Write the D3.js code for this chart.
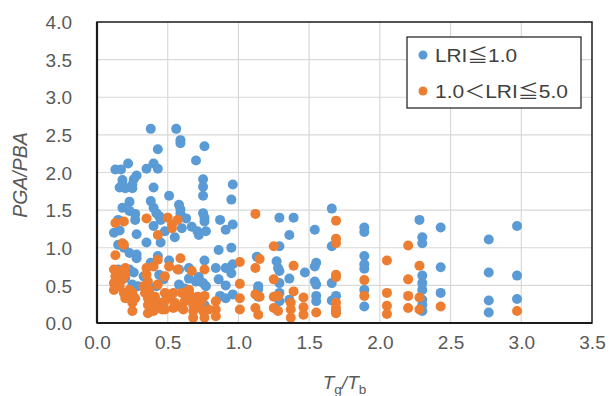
<!DOCTYPE html>
<html>
<head>
<meta charset="utf-8">
<script src="https://cdn.jsdelivr.net/npm/d3@7"></script>
<style>
  body { margin: 0; background: #fff; }
  svg { display: block; font-family: Arial, "Liberation Sans", sans-serif; }
  .grid line { stroke: #d9d9d9; stroke-width: 1.2; }
  .tick text { fill: #595959; font-size: 19px; }
</style>
</head>
<body>
<svg id="chart" width="615" height="396"></svg>
<script>
// axis ticks
var xTicks = [0, 0.5, 1.0, 1.5, 2.0, 2.5, 3.0, 3.5];
var yTicks = [0, 0.5, 1.0, 1.5, 2.0, 2.5, 3.0, 3.5, 4.0];
var seriesNames = ["LRI\u22661.0", "1.0\uff1cLRI\u22665.0"];
var seriesColors = ["#5b9bd5", "#ed7d31"];

// LRI <= 1.0 : [Tg/Tb, PGA/PBA]
var lowLRI = [
  [0.38,2.58],[0.56,2.58],[0.59,2.43],[0.59,2.39],[0.43,2.31],[0.76,2.35],[0.70,2.16],
  [0.13,2.04],[0.17,2.04],[0.22,2.12],[0.35,2.05],[0.40,2.12],[0.43,2.05],[0.28,1.96],
  [0.26,1.91],[0.18,1.90],[0.18,1.84],[0.16,1.80],[0.20,1.79],[0.25,1.79],[0.25,1.84],
  [0.40,1.80],[0.75,1.91],[0.75,1.81],[0.75,1.69],[0.51,1.69],[0.96,1.84],[0.95,1.64],
  [0.23,1.61],[0.38,1.62],[0.18,1.53],[0.58,1.57],[0.59,1.51],[0.40,1.53],[0.23,1.49],
  [0.27,1.45],[0.42,1.46],[0.44,1.42],[0.59,1.46],[0.75,1.46],[0.76,1.40],[0.76,1.35],
  [0.15,1.37],[0.27,1.37],[0.45,1.37],[0.63,1.39],[0.87,1.37],[0.96,1.31],[1.29,1.40],
  [1.39,1.40],[1.66,1.52],[1.54,1.24],[1.89,1.27],[1.89,1.21],[2.28,1.37],[2.43,1.27],
  [2.97,1.29],[2.30,1.14],[2.30,1.06],[2.77,1.11],[1.36,1.17],[1.29,1.02],[1.66,1.02],
  [0.91,1.24],[0.67,1.28],[0.71,1.22],[0.72,1.17],[0.77,1.22],[0.60,1.26],[0.55,1.14],
  [0.48,1.22],[0.40,1.29],[0.28,1.18],[0.35,1.07],[0.45,1.07],[0.12,1.20],[0.16,1.23],
  [0.15,1.04],[0.19,1.00],[0.23,0.93],[0.28,0.91],[0.28,0.86],[0.86,0.97],[0.95,1.00],
  [0.43,0.89],[1.13,0.88],[0.38,0.80],[0.51,0.83],[0.76,0.83],[0.96,0.78],[0.84,0.73],
  [0.91,0.73],[1.27,0.82],[1.28,0.73],[1.29,0.69],[1.55,0.80],[1.54,0.75],[1.89,0.89],
  [1.89,0.78],[1.89,0.72],[2.43,0.74],[2.77,0.67],[2.97,0.63],[1.47,0.67],[1.36,0.59],
  [2.30,0.63],[2.30,0.53],[2.30,0.44],[1.66,0.53],[1.54,0.55],[1.55,0.51],[1.29,0.53],
  [1.14,0.49],[1.14,0.45],[0.95,0.66],[0.86,0.58],[0.91,0.50],[0.58,0.51],[0.65,0.59],
  [0.72,0.61],[0.75,0.53],[0.77,0.49],[0.58,0.71],[0.65,0.73],[0.47,0.58],[0.42,0.49],
  [0.26,0.67],[0.23,0.71],[0.15,0.71],[0.25,0.51],[0.29,0.49],[1.89,0.44],[2.43,0.40],
  [2.77,0.30],[2.97,0.32],[2.77,0.14],[1.55,0.36],[1.55,0.29],[1.69,0.36],[1.66,0.30],
  [1.89,0.22],[2.30,0.31],[2.30,0.24],[2.30,0.16],[1.29,0.40],[1.29,0.29],[1.36,0.31],
  [1.14,0.35],[0.91,0.33],[0.96,0.38],[0.87,0.36],[0.76,0.24],[1.69,0.16],[0.20,0.60],
  [0.33,0.62],[0.62,0.46],[0.70,0.55],[0.44,0.64]
];

// 1.0 < LRI <= 5.0
var highLRI = [
  [1.12,1.45],[1.69,1.36],[1.69,1.12],[1.69,1.06],[1.25,1.02],[2.20,1.03],[0.35,1.39],
  [0.50,1.40],[0.57,1.37],[0.53,1.31],[0.53,1.26],[0.13,1.33],[0.19,1.35],[0.18,1.06],
  [0.19,1.04],[0.43,1.17],[0.13,0.90],[0.59,0.86],[0.43,0.84],[1.01,0.81],[1.15,0.85],
  [2.05,0.83],[1.12,0.73],[1.39,0.76],[2.28,0.76],[1.69,0.64],[1.69,0.61],[1.25,0.58],
  [2.20,0.58],[1.89,0.57],[1.01,0.52],[2.05,0.40],[1.89,0.36],[2.20,0.36],[2.28,0.34],
  [1.46,0.34],[1.39,0.42],[1.25,0.35],[1.28,0.36],[1.12,0.38],[1.15,0.35],[1.01,0.33],
  [2.05,0.23],[2.43,0.22],[2.20,0.20],[2.28,0.18],[2.97,0.16],[2.05,0.12],[1.69,0.27],
  [1.69,0.20],[1.69,0.13],[1.55,0.14],[1.46,0.21],[1.46,0.11],[1.37,0.27],[1.37,0.18],
  [1.37,0.07],[1.25,0.20],[1.28,0.16],[1.12,0.20],[1.14,0.11],[1.01,0.18],[0.84,0.29],
  [0.84,0.18],[0.84,0.09],[0.76,0.07],[0.68,0.07],[0.48,0.40],[0.54,0.40],[0.60,0.40],
  [0.65,0.40],[0.71,0.35],[0.76,0.36],[0.48,0.29],[0.55,0.27],[0.62,0.29],[0.68,0.24],
  [0.74,0.29],[0.48,0.18],[0.54,0.20],[0.61,0.18],[0.68,0.16],[0.75,0.16],[0.79,0.18],
  [0.36,0.13],[0.40,0.16],[0.36,0.24],[0.39,0.31],[0.34,0.40],[0.33,0.49],[0.36,0.55],
  [0.35,0.64],[0.35,0.73],[0.40,0.75],[0.37,0.44],[0.41,0.35],[0.41,0.22],[0.46,0.18],
  [0.43,0.51],[0.51,0.75],[0.57,0.71],[0.48,0.62],[0.67,0.69],[0.76,0.71],[0.65,0.44],
  [0.12,0.71],[0.13,0.62],[0.12,0.53],[0.12,0.44],[0.16,0.69],[0.18,0.58],[0.16,0.49],
  [0.19,0.40],[0.20,0.73],[0.20,0.64],[0.23,0.44],[0.25,0.40],[0.25,0.27],[0.25,0.16],
  [0.23,0.33],[0.20,0.33],[0.27,0.33],[0.36,0.33],[0.52,0.33],[0.58,0.22],[0.71,0.22],
  [0.44,0.27],[0.66,0.31]
];

var svg = d3.select("#chart");
var margin = {left: 97, right: 23, top: 22, bottom: 73};
var width = 615 - margin.left - margin.right,
    height = 396 - margin.top - margin.bottom;

var x = d3.scaleLinear().domain([0, 3.5]).range([0, width]);
var y = d3.scaleLinear().domain([0, 4]).range([height, 0]);

var g = svg.append("g").attr("transform", "translate(" + margin.left + "," + margin.top + ")");

// gridlines
var grid = g.append("g").attr("class", "grid");
grid.selectAll(".gx").data(xTicks.slice(1, -1)).enter().append("line")
    .attr("x1", function(d) { return x(d); }).attr("x2", function(d) { return x(d); })
    .attr("y1", 0).attr("y2", height);
grid.selectAll(".gy").data(yTicks.slice(1, -1)).enter().append("line")
    .attr("x1", 0).attr("x2", width)
    .attr("y1", function(d) { return y(d); }).attr("y2", function(d) { return y(d); });

// axes (labels only, frame drawn separately)
var xAxis = g.append("g").attr("transform", "translate(0," + height + ")")
    .call(d3.axisBottom(x).tickValues(xTicks).tickFormat(d3.format(".1f")).tickSize(0).tickPadding(20));
var yAxis = g.append("g")
    .call(d3.axisLeft(y).tickValues(yTicks).tickFormat(d3.format(".1f")).tickSize(0).tickPadding(25));
xAxis.select(".domain").remove();
yAxis.select(".domain").remove();
xAxis.selectAll("text").attr("dy", "0.3em");
yAxis.selectAll("text").attr("dy", "0.35em");

// points
var r = 5;
g.append("g").selectAll("circle").data(lowLRI).enter().append("circle")
    .attr("cx", function(d) { return x(d[0]); })
    .attr("cy", function(d) { return y(d[1]); })
    .attr("r", r).attr("fill", seriesColors[0]);
g.append("g").selectAll("circle").data(highLRI).enter().append("circle")
    .attr("cx", function(d) { return x(d[0]); })
    .attr("cy", function(d) { return y(d[1]); })
    .attr("r", r).attr("fill", seriesColors[1]);

// plot frame
g.append("rect").attr("width", width).attr("height", height)
    .attr("fill", "none").attr("stroke", "#1a1a1a").attr("stroke-width", 1.5);
g.append("line").attr("x1", 0).attr("x2", width).attr("y1", height).attr("y2", height)
    .attr("stroke", "#1a1a1a").attr("stroke-width", 2.2);
g.append("line").attr("x1", 0).attr("x2", 0).attr("y1", 0).attr("y2", height)
    .attr("stroke", "#1a1a1a").attr("stroke-width", 2.2);

// legend
var legend = svg.append("g").attr("transform", "translate(407,37)");
legend.append("rect").attr("width", 174).attr("height", 71)
    .attr("fill", "#fff").attr("stroke", "#1a1a1a").attr("stroke-width", 1.2);
var items = legend.selectAll(".item").data(seriesNames).enter().append("g")
    .attr("transform", function(d, i) { return "translate(0," + (18 + i * 36) + ")"; });
items.append("circle").attr("cx", 16).attr("cy", 0).attr("r", 4.5)
    .attr("fill", function(d, i) { return seriesColors[i]; });
var legendWidths = [82, 133];
items.append("text").attr("x", 28).attr("dy", "0.36em")
    .attr("fill", "#404040").style("font-size", "18.5px")
    .attr("textLength", function(d, i) { return legendWidths[i]; })
    .attr("lengthAdjust", "spacingAndGlyphs")
    .each(function(d) {
      var t = d3.select(this);
      d.split(/([\u2266\uff1c])/).forEach(function(part) {
        if (!part) return;
        var s = t.append("tspan").text(part);
        if (/[\u2266\uff1c]/.test(part)) s.style("font-family", "'Noto Sans CJK JP', sans-serif");
      });
    });

// axis titles
var xt = svg.append("text").attr("x", margin.left + x(1.75)).attr("y", 389)
    .attr("text-anchor", "middle").attr("fill", "#595959")
    .style("font-size", "19px");
xt.append("tspan").style("font-style", "italic").text("T");
xt.append("tspan").attr("dy", 5).style("font-size", "13.5px").text("g");
xt.append("tspan").attr("dy", -5).style("font-style", "italic").text("/T");
xt.append("tspan").attr("dy", 5).style("font-size", "13.5px").text("b");

svg.append("text")
    .attr("transform", "translate(27,175) rotate(-90)")
    .attr("text-anchor", "middle").attr("fill", "#595959")
    .style("font-size", "19.5px").style("font-style", "italic")
    .text("PGA/PBA");
</script>
</body>
</html>
